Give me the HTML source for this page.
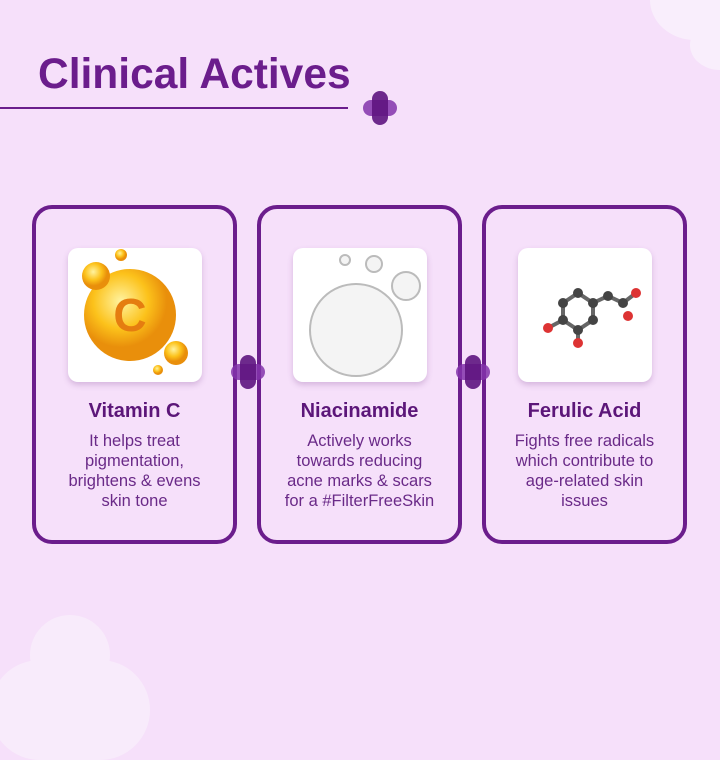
<!DOCTYPE html>
<html><head><style>
body{margin:0;width:720px;height:720px;background:#f6e0fa;position:relative;overflow:hidden;font-family:"Liberation Sans",sans-serif}
.abs{position:absolute}
.card{position:absolute;top:205px;width:197px;height:331px;border:4px solid #6b1d8c;border-radius:20px;box-sizing:content-box}
.img{position:absolute;top:39px;left:32px;width:134px;height:134px;background:#fff;border-radius:10px;box-shadow:0 3px 6px rgba(120,60,140,.25)}
.t{position:absolute;top:191px;left:0;width:197px;text-align:center;color:#5c1679;font-weight:bold;font-size:20px}
.b{position:absolute;top:222px;left:-4px;width:205px;text-align:center;color:#6a2a88;font-size:16.5px;line-height:20px}
.plus{position:absolute;width:34px;height:34px}
.plus:before{content:"";position:absolute;left:0;top:9px;width:34px;height:16px;border-radius:8px;background:rgba(130,50,170,.85)}
.plus:after{content:"";position:absolute;left:9px;top:0;width:16px;height:34px;border-radius:8px;background:#5e1580;opacity:.9}
</style></head><body>
<div class="abs" style="left:650px;top:-40px;width:90px;height:80px;border-radius:50%;background:#f9eefc"></div>
<div class="abs" style="left:690px;top:20px;width:60px;height:50px;border-radius:50%;background:#f9eefc"></div>
<div class="abs" style="left:30px;top:615px;width:80px;height:80px;border-radius:50%;background:#f8ebfb"></div>
<div class="abs" style="left:-10px;top:660px;width:160px;height:100px;border-radius:50px;background:#f8ebfb"></div>
<div class="abs" style="left:38px;top:51px;font-size:42.5px;font-weight:bold;color:#6b1d8c">Clinical Actives</div>
<div class="abs" style="left:0;top:107px;width:348px;height:2px;background:#6b1d8c"></div>
<div class="plus" style="left:363px;top:91px"></div>

<div class="card" style="left:32px"><div class="img">
<svg width="134" height="134"><defs><radialGradient id="g" cx="40%" cy="35%"><stop offset="0" stop-color="#fff3a0"/><stop offset=".6" stop-color="#fcc21b"/><stop offset="1" stop-color="#e98f0b"/></radialGradient></defs>
<circle cx="62" cy="67" r="46" fill="url(#g)"/><circle cx="28" cy="28" r="14" fill="url(#g)"/><circle cx="53" cy="7" r="6" fill="url(#g)"/><circle cx="108" cy="105" r="12" fill="url(#g)"/><circle cx="90" cy="122" r="5" fill="url(#g)"/>
<text x="62" y="83" text-anchor="middle" font-family="Liberation Sans" font-weight="bold" font-size="46" fill="#e57d10">C</text></svg>
</div><div class="t">Vitamin C</div><div class="b">It helps treat<br>pigmentation,<br>brightens &amp; evens<br>skin tone</div></div>

<div class="card" style="left:257px"><div class="img">
<svg width="134" height="134"><g fill="#f4f4f4" stroke="#bbb" stroke-width="2"><circle cx="63" cy="82" r="46"/><circle cx="52" cy="12" r="5"/><circle cx="81" cy="16" r="8"/><circle cx="113" cy="38" r="14"/></g></svg>
</div><div class="t">Niacinamide</div><div class="b">Actively works<br>towards reducing<br>acne marks &amp; scars<br>for a #FilterFreeSkin</div></div>

<div class="card" style="left:482px"><div class="img">
<svg width="134" height="134"><g stroke="#666" stroke-width="4"><path d="M45 55 L60 45 L75 55 L75 72 L60 82 L45 72 Z M75 55 L90 48 L105 55 L118 45" fill="none"/><path d="M45 72 L30 80 M60 82 L60 95"/></g>
<g fill="#444"><circle cx="45" cy="55" r="5"/><circle cx="60" cy="45" r="5"/><circle cx="75" cy="55" r="5"/><circle cx="75" cy="72" r="5"/><circle cx="60" cy="82" r="5"/><circle cx="45" cy="72" r="5"/><circle cx="90" cy="48" r="5"/><circle cx="105" cy="55" r="5"/></g>
<g fill="#d33"><circle cx="30" cy="80" r="5"/><circle cx="60" cy="95" r="5"/><circle cx="118" cy="45" r="5"/><circle cx="110" cy="68" r="5"/></g></svg>
</div><div class="t">Ferulic Acid</div><div class="b">Fights free radicals<br>which contribute to<br>age-related skin<br>issues</div></div>

<div class="plus" style="left:231px;top:355px"></div>
<div class="plus" style="left:456px;top:355px"></div>
</body></html>
